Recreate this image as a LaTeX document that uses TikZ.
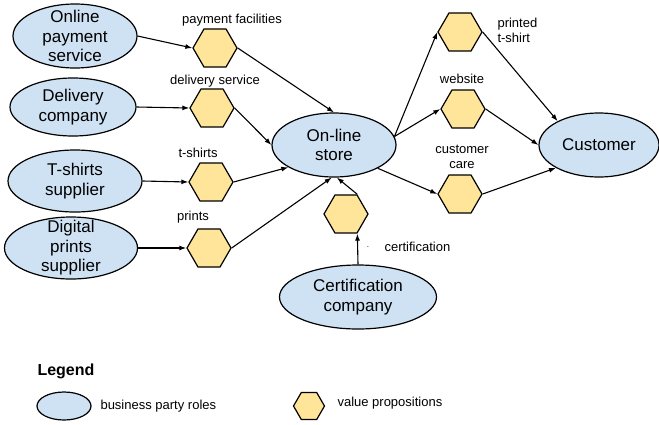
\documentclass[tikz,border=0pt]{standalone}
\usepackage{fontspec}
\setmainfont{Liberation Sans}
\usetikzlibrary{arrows.meta, positioning, shapes.geometric}
\definecolor{partyblue}{HTML}{CFE2F3}
\definecolor{propyellow}{HTML}{FFE599}

\begin{document}
\begin{tikzpicture}[x=1pt, y=-1pt,
  party/.style={ellipse, draw, line width=1.2pt, fill=partyblue, inner sep=-8pt, align=center, font=\fontsize{17}{19.5}\selectfont},
  valprop/.style={regular polygon, regular polygon sides=6, draw, line width=1.2pt, fill=propyellow, minimum size=44pt, inner sep=0pt},
  tag/.style={font=\fontsize{13}{15}\selectfont, align=center},
  flow/.style={-{Latex[length=7pt,width=5pt]}, line width=1.1pt}]
  \useasboundingbox (0,0) rectangle (659,424);

  % Business party roles
  \node[party, minimum width=124pt, minimum height=64pt] (ops) at (75,36) {Online\\payment\\service};
  \node[party, minimum width=126pt, minimum height=58pt] (delco) at (73,107) {Delivery\\company};
  \node[party, minimum width=134pt, minimum height=62pt] (tsup) at (75,181) {T-shirts\\supplier};
  \node[party, minimum width=133pt, minimum height=62pt] (dps) at (71,248) {Digital\\prints\\supplier};
  \node[party, minimum width=124pt, minimum height=64pt] (store) at (334,145) {On-line\\store};
  \node[party, minimum width=120pt, minimum height=64pt] (cust) at (599,145) {Customer};
  \node[party, minimum width=157pt, minimum height=64pt] (certco) at (358,297) {Certification\\company};

  % Value propositions
  \node[valprop] (payhex) at (215,48) {};
  \node[valprop] (delhex) at (212,108) {};
  \node[valprop] (tshex) at (211,182) {};
  \node[valprop] (prhex) at (209,248) {};
  \node[valprop] (certhex) at (346,214) {};
  \node[valprop] (pthex) at (460,32) {};
  \node[valprop] (webhex) at (463,109) {};
  \node[valprop] (carehex) at (460,194) {};

  % Labels of value propositions
  \node[tag] (paylbl) at (232,20) {payment facilities};
  \node[tag] (dellbl) at (215,81) {delivery service};
  \node[tag] (tslbl) at (198,153) {t-shirts};
  \node[tag] (prlbl) at (193,217) {prints};
  \node[tag, align=left, anchor=west] (ptlbl) at (494,30) {printed\\t-shirt};
  \node[tag] (weblbl) at (462,79) {website};
  \node[tag] (carelbl) at (462,157) {customer\\care};
  \node[tag, anchor=west] (certlbl) at (381,247) {certification};
  \node[font=\fontsize{8}{9}\selectfont] (dot) at (368,247) {.};

  % Value flows
  \draw[flow] (ops.east) -- (payhex.west);
  \draw[flow] (delco.east) -- (delhex.west);
  \draw[flow] (tsup.east) -- (tshex.west);
  \draw[flow] (dps.east) -- (prhex.west);
  \draw[flow] (payhex.east) -- (store.north);
  \draw[flow] (delhex.east) -- (store.west);
  \draw[flow] (tshex.east) -- (store.206);
  \draw[flow] (prhex.east) -- (store.266);
  \draw[flow] (certhex.60) -- (store.275);
  \draw[flow] (certco.north) -- (certhex.300);
  \draw[flow] (store.8) -- (pthex.west);
  \draw[flow] (store.8) -- (webhex.west);
  \draw[flow] (store.332) -- (carehex.west);
  \draw[flow] (pthex.east) -- (cust.150);
  \draw[flow] (webhex.east) -- (cust.west);
  \draw[flow] (carehex.east) -- (cust.208);

  % Legend
  \node[font=\bfseries\fontsize{16}{18}\selectfont, anchor=west] (legend) at (34,371) {Legend};
  \node[party, minimum width=54pt, minimum height=28pt] (legparty) at (64,406) {};
  \node[tag, anchor=west] (legpartytxt) at (97,406) {business party roles};
  \node[valprop, minimum size=31pt] (legprop) at (309,406) {};
  \node[tag, anchor=west] (legproptxt) at (334,403) {value propositions};
\end{tikzpicture}
\end{document}
